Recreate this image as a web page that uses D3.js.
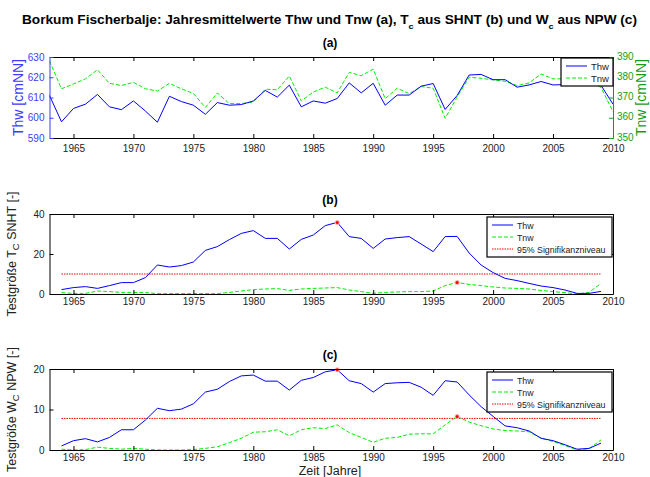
<!DOCTYPE html>
<html lang="en">
<head>
<meta charset="UTF-8">
<title>Borkum Fischerbalje</title>
<style>
  body { margin: 0; background: #fff; }
  svg text { font-family: "Liberation Sans", Arial, sans-serif; }
</style>
</head>
<body>
<svg id="viz" width="650" height="477"></svg>
<script src="https://d3js.org/d3.v7.min.js"></script>
<script>
// ---- data ----
const yearsA = d3.range(1963, 2011);
const thwMean = [611, 598, 604.6, 606.7, 611.5, 605.4, 604, 608.3, 603.3, 597.8,
  610.6, 608, 606.2, 601.7, 607.5, 606.2, 606.5, 608.3, 613.5, 610.2,
  616.1, 605.4, 608.3, 607.2, 609.5, 617.2, 612.3, 617, 606.2, 611.2,
  611.2, 615.6, 616.9, 604.1, 611, 621.1, 621.4, 618.8, 618.8, 615.1,
  616.2, 617.9, 616.2, 616.4, 617, 619, 616, 606.7];
const tnwMean = [388, 374.3, 376.7, 379.2, 383.7, 377, 375.9, 377.5, 374.3, 373.2,
  377, 374.3, 372, 365.1, 372.2, 367, 367, 367.8, 374.1, 373.8,
  380.6, 368.3, 372.7, 375.1, 372.3, 382.4, 380.8, 384, 369.4, 374.6,
  371.9, 375.4, 374.6, 359.7, 370.2, 380, 379.5, 378.7, 378, 375.9,
  377.2, 381.6, 379.2, 379.2, 379, 378, 375, 363];

const yearsT = d3.range(1964, 2010);
const snhtThw = [2.2, 3.2, 3.7, 2.8, 4.2, 5.7, 5.7, 8.2, 14.5, 13.5,
  14.2, 16, 21.8, 23.7, 27.2, 30.3, 31.7, 27.8, 27.8, 22.5,
  27.3, 29.5, 34.2, 35.8, 28.7, 27.8, 22.8, 27.5, 28.2, 28.7,
  25, 21.2, 28.7, 28.8, 20.5, 14.5, 10.7, 7.8, 6.7, 5.3,
  4, 3.2, 2, 0.3, 0.3, 1.3];
const snhtTnw = [0.7, 0.3, 0.3, 1.5, 1.2, 0.8, 0.8, 0.7, 0.2, 0.2,
  0.2, 0.2, 0.2, 0.2, 0.8, 1.5, 2.2, 2.5, 2.7, 1.8,
  2.5, 2.8, 3, 3.2, 2, 1.2, 0.3, 0.8, 1, 1.2,
  1.2, 1.5, 4.2, 5.8, 4.8, 4.2, 3.5, 3, 2.8, 2.5,
  1.8, 1.2, 0.7, 0, 0.8, 5.3];
const snhtCrit = 10;

const npwThw = [1, 2.3, 2.8, 2, 3.1, 5, 5, 7.4, 10.3, 9.7,
  10.1, 11.4, 14.3, 15, 16.9, 18.3, 18.5, 17, 17, 14.8,
  17.2, 17.9, 19.3, 19.8, 17.1, 16.4, 14.3, 16.4, 16.6, 16.7,
  15.5, 13.5, 17.1, 16.8, 13.6, 10.7, 8.3, 5.95, 5.5, 4.7,
  2.9, 2.3, 1.3, 0.2, 0.4, 1.7];
const npwTnw = [0.2, 0, 0.1, 0.7, 0.4, 0.2, 0.4, 0.2, 0, 0,
  0, 0.1, 0.4, 0.8, 1.8, 2.9, 4.4, 4.5, 5, 3.5,
  5, 5.5, 5.3, 6.2, 4.3, 3.1, 1.9, 2.9, 3.1, 3.9,
  4, 4, 6.2, 8.3, 6.9, 6, 5.2, 4.8, 4.7, 4.5,
  2.9, 2.1, 1.1, 0, 0.3, 2.5];
const npwCrit = 7.8;

const xTicks = d3.range(1965, 2011, 5);

// ---- layout ----
const svg = d3.select("#viz");
const left = 49.5, right = 613;
const blue = "#0000ff", green = "#00ee00", red = "#ff0000";
const axBlue = "#3b3bff", axGreen = "#1a9a1a";

const x = d3.scaleLinear().domain([1963, 2010]).range([left, right]);

svg.append("text")
  .attr("x", 22).attr("y", 23.5)
  .attr("textLength", 615).attr("lengthAdjust", "spacingAndGlyphs")
  .style("font-size", "12px").style("font-weight", "bold")
  .call(t => {
    t.append("tspan").text("Borkum Fischerbalje: Jahresmittelwerte Thw und Tnw (a), T");
    t.append("tspan").attr("dy", 5).style("font-size", "8px").text("c");
    t.append("tspan").attr("dy", -5).text(" aus SHNT (b) und W");
    t.append("tspan").attr("dy", 5).style("font-size", "8px").text("c");
    t.append("tspan").attr("dy", -5).text(" aus NPW (c)");
  });

function panelTitle(label, y) {
  svg.append("text").attr("x", 330).attr("y", y)
    .attr("text-anchor", "middle")
    .style("font-size", "12px").style("font-weight", "bold")
    .text(label);
}

function frame(g, top, bottom, leftColor, rightColor, yScale, yTicks, yScaleR, yTicksR, pad) {
  // x ticks bottom and top, inward
  const xa = g.append("g").attr("transform", `translate(0,${bottom})`)
    .call(d3.axisBottom(x).tickValues(xTicks).tickFormat(d3.format("d"))
      .tickSizeInner(-4).tickSizeOuter(0).tickPadding(pad));
  xa.select(".domain").attr("stroke", "#000");
  xa.selectAll("text").style("font-size", "10px").attr("fill", "#222");
  const xt = g.append("g").attr("transform", `translate(0,${top})`)
    .call(d3.axisTop(x).tickValues(xTicks).tickFormat("").tickSizeInner(-4).tickSizeOuter(0));
  xt.select(".domain").attr("stroke", "#000");

  const ya = g.append("g").attr("transform", `translate(${left},0)`)
    .call(d3.axisLeft(yScale).tickValues(yTicks).tickSizeInner(-4).tickSizeOuter(0).tickPadding(5));
  ya.select(".domain").attr("stroke", leftColor);
  ya.selectAll("line").attr("stroke", leftColor);
  ya.selectAll("text").style("font-size", "10px").attr("fill", leftColor === "#000" ? "#222" : leftColor);

  const yr = g.append("g").attr("transform", `translate(${right},0)`)
    .call(d3.axisRight(yScaleR).tickValues(yTicksR).tickSizeInner(-4).tickSizeOuter(0).tickPadding(4)
      .tickFormat(yScaleR === yScale ? "" : null));
  yr.select(".domain").attr("stroke", rightColor);
  yr.selectAll("line").attr("stroke", rightColor);
  yr.selectAll("text").style("font-size", "10px").attr("fill", rightColor).attr("y", -1);
}

function legend(g, x0, y0, w, items, fs) {
  const h = items.length * 12 + 4;
  g.append("rect").attr("x", x0).attr("y", y0).attr("width", w).attr("height", h)
    .attr("fill", "#fff").attr("stroke", "#000").attr("stroke-width", 1.2);
  items.forEach((it, i) => {
    const yy = y0 + 8 + i * 12;
    g.append("line").attr("x1", x0 + 5).attr("x2", x0 + 26).attr("y1", yy).attr("y2", yy)
      .attr("stroke", it.color).attr("stroke-width", 1).attr("stroke-dasharray", it.dash);
    g.append("text").attr("x", x0 + 30).attr("y", yy + 3.5)
      .style("font-size", fs + "px").attr("fill", "#222").text(it.label);
  });
}

function yLabel(parts, xPos, yMid, color, size) {
  const t = svg.append("text")
    .attr("transform", `translate(${xPos},${yMid}) rotate(-90)`)
    .attr("text-anchor", "middle")
    .style("font-size", size + "px").attr("fill", color);
  parts.forEach(p => {
    const s = t.append("tspan").text(p.text);
    if (p.sub) s.attr("dy", 3).style("font-size", "9.5px");
    if (p.back) s.attr("dy", -3);
  });
}

// ---- panel (a) ----
{
  const top = 57, bottom = 138;
  const g = svg.append("g");
  const yL = d3.scaleLinear().domain([590, 630]).range([bottom, top]);
  const yR = d3.scaleLinear().domain([350, 390]).range([bottom, top]);
  panelTitle("(a)", 47);
  const lineL = d3.line().x((d, i) => x(yearsA[i])).y(d => yL(d));
  const lineR = d3.line().x((d, i) => x(yearsA[i])).y(d => yR(d));
  g.append("path").datum(tnwMean).attr("d", lineR).attr("fill", "none")
    .attr("stroke", green).attr("stroke-width", 1).attr("stroke-dasharray", "4,2");
  g.append("path").datum(thwMean).attr("d", lineL).attr("fill", "none")
    .attr("stroke", blue).attr("stroke-width", 1);
  frame(g, top, bottom, axBlue, axGreen, yL, d3.range(590, 631, 10), yR, d3.range(350, 391, 10), 6.5);
  legend(g, 561, 58, 52, [
    { label: "Thw", color: blue, dash: null },
    { label: "Tnw", color: green, dash: "4,2" }
  ], 9.5);
  yLabel([{ text: "Thw [cmNN]" }], 22.5, (top + bottom) / 2, axBlue, 14);
  svg.append("text")
    .attr("transform", `translate(646,${(top + bottom) / 2}) rotate(-90)`)
    .attr("text-anchor", "middle").style("font-size", "14px").attr("fill", axGreen)
    .text("Tnw [cmNN]");
}

function testPanel(top, bottom, maxY, yTicks, thw, tnw, crit, title, titleY, labelParts) {
  const g = svg.append("g");
  const y = d3.scaleLinear().domain([0, maxY]).range([bottom, top]);
  panelTitle(title, titleY);
  const line = d3.line().x((d, i) => x(yearsT[i])).y(d => y(d));
  g.append("path").datum(yearsT.map(() => crit)).attr("d", line).attr("fill", "none")
    .attr("stroke", red).attr("stroke-width", 1).attr("stroke-dasharray", "1.5,1");
  g.append("path").datum(tnw).attr("d", line).attr("fill", "none")
    .attr("stroke", green).attr("stroke-width", 1).attr("stroke-dasharray", "4,2");
  g.append("path").datum(thw).attr("d", line).attr("fill", "none")
    .attr("stroke", blue).attr("stroke-width", 1);
  [thw, tnw].forEach(s => {
    const i = d3.maxIndex(s);
    g.append("circle").attr("cx", x(yearsT[i])).attr("cy", y(s[i])).attr("r", 2.5)
      .attr("fill", "#ffb0b0");
    g.append("circle").attr("cx", x(yearsT[i])).attr("cy", y(s[i])).attr("r", 1.5)
      .attr("fill", red);
  });
  frame(g, top, bottom, "#000", "#000", y, yTicks, y, yTicks, 4);
  legend(g, 487, top + 3, 125, [
    { label: "Thw", color: blue, dash: null },
    { label: "Tnw", color: green, dash: "4,2" },
    { label: "95% Signifikanzniveau", color: red, dash: "1.5,1" }
  ], 8.8);
  yLabel(labelParts, 16, (top + bottom) / 2, "#222", 12.5);
}

// ---- panel (b) ----
testPanel(214, 294, 40, [0, 20, 40], snhtThw, snhtTnw, snhtCrit, "(b)", 204,
  [{ text: "Testgröße T" }, { text: "C", sub: true }, { text: " SNHT [-]", back: true }]);

// ---- panel (c) ----
testPanel(369, 450, 20, [0, 10, 20], npwThw, npwTnw, npwCrit, "(c)", 359,
  [{ text: "Testgröße W" }, { text: "C", sub: true }, { text: " NPW [-]", back: true }]);

svg.append("text").attr("x", 330).attr("y", 474.5)
  .attr("text-anchor", "middle").style("font-size", "12.5px").attr("fill", "#222")
  .text("Zeit [Jahre]");
</script>
</body>
</html>
